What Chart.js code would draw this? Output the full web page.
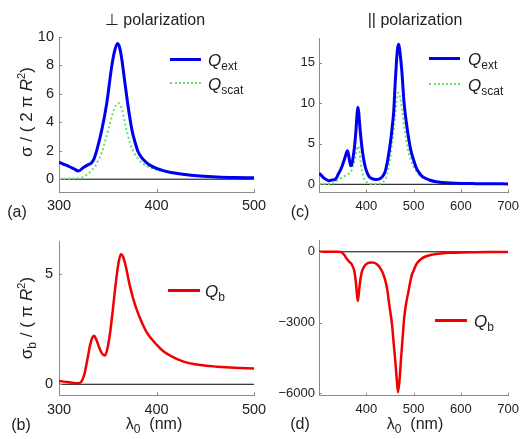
<!DOCTYPE html>
<html>
<head>
<meta charset="utf-8">
<script src="https://cdn.jsdelivr.net/npm/chart.js@4/dist/chart.umd.min.js"></script>
<style>
body { margin: 0; background: #fff; }
#wrap { position: relative; width: 525px; height: 439px; overflow: hidden; font-family: "Liberation Sans", Arial, sans-serif; color: #222; }
canvas { position: absolute; left: 0; top: 0; }
.t { position: absolute; white-space: nowrap; transform: translate(-50%, -50%); font-size: 16px; line-height: 1; }
.rot { transform: translate(-50%, -50%) rotate(-90deg); font-size: 17px; }
.lg { position: absolute; white-space: nowrap; transform: translate(0, -50%); font-size: 17px; line-height: 1; }
.ln { position: absolute; height: 0; }
sub { font-size: 12px; vertical-align: -4px; line-height: 0; }
sup { font-size: 11px; vertical-align: 7px; line-height: 0; }
</style>
</head>
<body>
<div id="wrap">
  <canvas id="ca" width="525" height="439"></canvas>
  <canvas id="cc" width="525" height="439"></canvas>
  <canvas id="cb" width="525" height="439"></canvas>
  <canvas id="cd" width="525" height="439"></canvas>

  <div class="t" style="left:155px;top:20px">&perp; polarization</div>
  <div class="t" style="left:415px;top:20px">|| polarization</div>
  <div class="t rot" style="left:26px;top:112px">&sigma; / ( 2 &pi; <i>R</i><sup>2</sup>)</div>
  <div class="t rot" style="left:26px;top:318px">&sigma;<sub>b</sub> / ( &pi; <i>R</i><sup>2</sup>)</div>
  <div class="t" style="left:154px;top:424px">&lambda;<sub>0</sub>&nbsp; (nm)</div>
  <div class="t" style="left:415px;top:424px">&lambda;<sub>0</sub>&nbsp; (nm)</div>
  <div class="t" style="left:17px;top:212px">(a)</div>
  <div class="t" style="left:300px;top:212px">(c)</div>
  <div class="t" style="left:21px;top:425px">(b)</div>
  <div class="t" style="left:300px;top:424px">(d)</div>

  <div class="ln" style="left:170px;top:58px;width:31px;border-top:3px solid #0000f0"></div>
  <div class="lg" style="left:208px;top:60px"><i>Q</i><sub>ext</sub></div>
  <div class="ln" style="left:170px;top:82px;width:31px;border-top:2px dotted #66e066"></div>
  <div class="lg" style="left:208px;top:84px"><i>Q</i><sub>scat</sub></div>

  <div class="ln" style="left:429px;top:57px;width:31px;border-top:3px solid #0000f0"></div>
  <div class="lg" style="left:468px;top:59px"><i>Q</i><sub>ext</sub></div>
  <div class="ln" style="left:429px;top:83px;width:31px;border-top:2px dotted #66e066"></div>
  <div class="lg" style="left:468px;top:85px"><i>Q</i><sub>scat</sub></div>

  <div class="ln" style="left:168px;top:289px;width:32px;border-top:3px solid #f00000"></div>
  <div class="lg" style="left:205px;top:291px"><i>Q</i><sub>b</sub></div>
  <div class="ln" style="left:435px;top:319px;width:32px;border-top:3px solid #f00000"></div>
  <div class="lg" style="left:474px;top:321px"><i>Q</i><sub>b</sub></div>
</div>

<script>
// (a) perpendicular polarization: extinction / scattering
const lamA  = [300, 305, 310, 315, 320, 325, 330, 333, 336, 339, 344, 349, 354, 357, 360, 362, 364.5, 367, 369.5, 372, 375, 378, 381, 385, 390, 395, 400, 407, 415, 427, 445, 462, 480, 500];
const qextA = [1.2, 1.05, 0.9, 0.74, 0.58, 0.82, 1.02, 1.12, 1.45, 2.1, 3.5, 5.35, 7.9, 9.0, 9.55, 9.3, 8.4, 7.1, 5.8, 4.6, 3.4, 2.6, 1.95, 1.5, 1.15, 0.92, 0.76, 0.6, 0.47, 0.35, 0.23, 0.16, 0.12, 0.1];
const lamAs  = [300, 310, 320, 325, 330, 334, 337, 340, 344, 347, 351, 355, 358, 361, 364, 366, 368, 371, 373, 377, 381, 386, 392, 400, 410, 420, 430, 445, 460, 480, 500];
const qscatA = [0.03, 0.04, 0.07, 0.15, 0.4, 0.65, 0.9, 1.3, 1.9, 2.6, 3.6, 4.6, 5.15, 5.35, 5.05, 4.5, 3.8, 3.0, 2.5, 1.85, 1.45, 1.1, 0.85, 0.66, 0.5, 0.38, 0.3, 0.21, 0.15, 0.11, 0.09];

// (c) parallel polarization
const lamC  = [300, 305, 310, 315, 320, 325, 330, 334, 338, 341, 344, 348, 351, 355, 358, 360, 362, 365, 367, 369, 372, 375, 378, 380, 382, 384, 386, 389, 392, 396, 400, 406, 412, 420, 428, 434, 440, 445, 452, 455, 458, 461.5, 464, 466, 468, 470, 472, 475, 480, 485, 490, 495, 500, 506, 512, 517, 525, 535, 545, 560, 580, 600, 630, 660, 700];
const qextC = [1.36, 1.1, 0.8, 0.6, 0.45, 0.5, 0.55, 0.6, 0.9, 1.3, 1.6, 2.1, 2.6, 3.3, 3.9, 4.15, 3.8, 2.8, 2.3, 2.4, 3.3, 4.6, 6.5, 8.3, 9.5, 8.9, 7.4, 5.5, 4.0, 2.6, 1.7, 0.95, 0.7, 0.6, 0.68, 0.94, 1.6, 2.9, 5.6, 7.2, 9.0, 12.9, 15.3, 16.7, 17.3, 16.9, 15.9, 14.1, 10.0, 7.5, 5.5, 4.0, 3.0, 2.0, 1.4, 1.05, 0.75, 0.5, 0.35, 0.23, 0.15, 0.11, 0.08, 0.06, 0.05];
const lamCs  = [300, 320, 330, 335, 340, 345, 350, 355, 360, 364, 367, 370, 374, 378, 382, 385, 388, 391, 395, 400, 405, 410, 420, 430, 436, 440, 444, 448, 452, 456, 460, 464, 467, 469, 472, 476, 480, 485, 490, 495, 500, 510, 520, 535, 550, 575, 600, 650, 700];
const qscatC = [0.05, 0.05, 0.1, 0.3, 0.5, 0.7, 0.9, 1.05, 1.2, 1.35, 1.5, 1.9, 2.6, 3.7, 4.7, 4.3, 2.8, 1.6, 0.7, 0.3, 0.12, 0.06, 0.04, 0.1, 0.3, 0.6, 1.2, 2.4, 3.8, 5.8, 8.0, 10.2, 11.2, 11.3, 10.6, 9.0, 7.2, 5.3, 3.8, 2.9, 2.2, 1.3, 0.8, 0.45, 0.28, 0.15, 0.1, 0.06, 0.04];

// (b) backscattering, perpendicular
const lamB = [300, 305, 310, 315, 320, 323, 326, 329, 332, 334, 336, 338, 341, 344, 347, 349, 352, 355, 358, 361, 363.5, 366, 369, 372, 376, 380, 385, 390, 395, 400, 407, 415, 427, 445, 462, 480, 500];
const qbB  = [0.15, 0.12, 0.09, 0.06, 0.05, 0.12, 0.45, 1.1, 1.8, 2.1, 2.2, 2.05, 1.7, 1.4, 1.3, 1.5, 2.2, 3.3, 4.5, 5.5, 5.9, 5.75, 5.25, 4.6, 3.9, 3.35, 2.8, 2.35, 2.05, 1.8, 1.5, 1.28, 1.04, 0.87, 0.8, 0.75, 0.72];

// (d) backscattering, parallel
const lamD = [300, 320, 340, 347, 350, 354, 358, 362, 366, 369, 372, 375, 378, 380, 382, 384, 387, 390, 393, 398, 403, 410, 416, 423, 428, 434, 440, 444, 449, 454.5, 458, 461.5, 464, 467, 470, 473, 477, 480, 485, 489, 496, 500, 506, 515, 524, 540, 558, 580, 600, 630, 660, 700];
const qbD  = [0, 0, 0, -10, -60, -150, -280, -380, -460, -520, -650, -850, -1300, -1750, -2080, -1800, -1250, -900, -720, -560, -480, -450, -460, -540, -650, -860, -1200, -1560, -2300, -3100, -3900, -4660, -5300, -5950, -5500, -4660, -3600, -2820, -2100, -1700, -1000, -800, -520, -320, -210, -120, -70, -40, -25, -15, -8, -5];

// tick values
const xTicksAB = [300, 400, 500];
const xTicksCD = [300, 400, 500, 600, 700];
const yTicksA = [0, 2, 4, 6, 8, 10];
const yTicksC = [0, 5, 10, 15];
const yTicksB = [0, 5];
const yTicksD = [-6000, -3000, 0];

const BLUE = '#0000f0', GREEN = '#66e066', RED = '#f00000', AXIS = '#8a8a8a';
const FONT = '"Liberation Sans", Arial, sans-serif';

function pts(xs, ys) { return xs.map((x, i) => ({ x: x, y: ys[i] })); }
function fmt(v) { return v < 0 ? '\u2212' + Math.abs(v) : String(v); }

// short inward ticks like the matlab axes
const inTicks = {
    id: 'inTicks',
    afterDraw(chart) {
        const { ctx, chartArea: a, scales: { x, y } } = chart;
        ctx.save();
        ctx.strokeStyle = AXIS;
        ctx.lineWidth = 1;
        ctx.beginPath();
        x.ticks.forEach(t => {
            const px = Math.round(x.getPixelForValue(t.value)) + 0.5;
            ctx.moveTo(px, a.bottom); ctx.lineTo(px, a.bottom - 3);
        });
        y.ticks.forEach(t => {
            const py = Math.round(y.getPixelForValue(t.value)) + 0.5;
            ctx.moveTo(a.left, py); ctx.lineTo(a.left + 3, py);
        });
        ctx.stroke();
        ctx.restore();
    }
};

function panel(id, area, xr, yr, xt, yt, hideX, sets, fs, padX, padY) {
    const zero = { data: [{ x: xr[0], y: 0 }, { x: xr[1], y: 0 }], borderColor: '#000', borderWidth: 1, pointRadius: 0, order: 9 };
    return new Chart(document.getElementById(id), {
        type: 'line',
        data: { datasets: [zero].concat(sets) },
        options: {
            responsive: false,
            animation: false,
            events: [],
            layout: { autoPadding: false, padding: { left: 0, top: area.t, right: 525 - area.r, bottom: 0 } },
            plugins: { legend: { display: false }, tooltip: { enabled: false } },
            elements: { point: { radius: 0 }, line: { cubicInterpolationMode: 'monotone' } },
            scales: {
                x: {
                    type: 'linear', min: xr[0], max: xr[1],
                    afterFit: s => { s.height = 439 - area.b; },
                    afterBuildTicks: s => { s.ticks = xt.map(v => ({ value: v })); },
                    grid: { display: false, drawTicks: false },
                    border: { color: AXIS, width: 1 },
                    ticks: { padding: padX, color: '#222', maxRotation: 0, font: { size: fs, family: FONT },
                             callback: v => hideX.includes(v) ? '' : fmt(v) }
                },
                y: {
                    type: 'linear', min: yr[0], max: yr[1],
                    afterFit: s => { s.width = area.l; },
                    afterBuildTicks: s => { s.ticks = yt.map(v => ({ value: v })); },
                    grid: { display: false, drawTicks: false },
                    border: { color: AXIS, width: 1 },
                    ticks: { padding: padY, color: '#222', font: { size: fs, family: FONT }, callback: v => fmt(v) }
                }
            }
        },
        plugins: [inTicks]
    });
}

panel('ca', { l: 59, t: 37, r: 254, b: 192 }, [300, 500], [-0.9, 10], xTicksAB, yTicksA, [], [
    { data: pts(lamA, qextA), borderColor: BLUE, borderWidth: 3, order: 1 },
    { data: pts(lamAs, qscatA), borderColor: GREEN, borderWidth: 2, borderDash: [2, 2.5], order: 2 }
], 14.5, 5, 5);

panel('cc', { l: 319, t: 38.5, r: 512.5, b: 192.4 }, [300, 700], [-1, 18], xTicksCD, yTicksC, [300], [
    { data: pts(lamC, qextC), borderColor: BLUE, borderWidth: 3, order: 1 },
    { data: pts(lamCs, qscatC), borderColor: GREEN, borderWidth: 2, borderDash: [2, 2.5], order: 2 }
], 13, 6, 4);

panel('cb', { l: 59, t: 241, r: 254, b: 395.3 }, [300, 500], [-0.5, 6.5], xTicksAB, yTicksB, [], [
    { data: pts(lamB, qbB), borderColor: RED, borderWidth: 2.5, order: 1 }
], 14.5, 6, 6);

panel('cd', { l: 319, t: 240, r: 512.7, b: 395.7 }, [300, 700], [-6100, 500], xTicksCD, yTicksD, [300], [
    { data: pts(lamD, qbD), borderColor: RED, borderWidth: 2.5, order: 1 }
], 13, 6, 4);
</script>
</body>
</html>
